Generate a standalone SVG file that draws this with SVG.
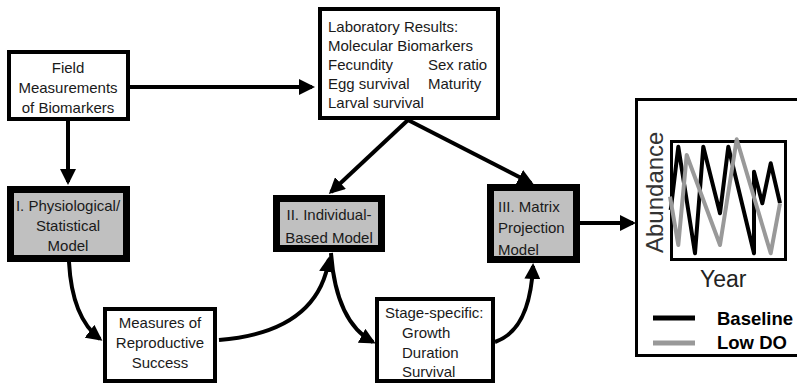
<svg xmlns="http://www.w3.org/2000/svg" width="797" height="389" viewBox="0 0 797 389">
<style>
text{font-family:"Liberation Sans",Arial,sans-serif;font-size:15px;fill:#1a1a1a}
.c{text-anchor:middle}
.wb{fill:#fff;stroke:#000;stroke-width:4}
.gb{fill:#c0c0c0;stroke:#000;stroke-width:7}
.con{fill:none;stroke:#000;stroke-width:4}
.leg{font-weight:bold;font-size:18.5px;fill:#000}
</style>
<defs>
<marker id="ah" markerUnits="userSpaceOnUse" markerWidth="16" markerHeight="16" refX="13" refY="8" orient="auto">
<path d="M0,0 L16,8 L0,16 z" fill="#000"/>
</marker>
</defs>
<rect width="797" height="389" fill="#fff"/>
<g id="connectors">
<path class="con" d="M130,87 L312,87" marker-end="url(#ah)"/>
<path class="con" d="M68,121 L68,182" marker-end="url(#ah)"/>
<path class="con" d="M408,120 L331,192" marker-end="url(#ah)"/>
<path class="con" d="M408,120 L531,183" marker-end="url(#ah)"/>
<path class="con" d="M580,223 L633,223" marker-end="url(#ah)"/>
<path class="con" d="M69,262 Q72,318 100,339" marker-end="url(#ah)"/>
<path class="con" d="M219,340 Q318,332 329,259" marker-end="url(#ah)"/>
<path class="con" d="M331,253 Q336,322 373,342" marker-end="url(#ah)"/>
<path class="con" d="M495,342 Q530,330 533,266" marker-end="url(#ah)"/>
</g>
<g id="field">
<rect class="wb" x="9" y="52" width="119" height="67"/>
<text class="c" x="68" y="73">Field</text>
<text class="c" x="68" y="93">Measurements</text>
<text class="c" x="68" y="113">of Biomarkers</text>
</g>
<g id="lab">
<rect class="wb" x="320" y="9" width="178" height="109"/>
<text x="328" y="32">Laboratory Results:</text>
<text x="328" y="51">Molecular Biomarkers</text>
<text x="328" y="70">Fecundity</text>
<text x="428" y="70">Sex ratio</text>
<text x="328" y="89">Egg survival</text>
<text x="428" y="89">Maturity</text>
<text x="328" y="108">Larval survival</text>
</g>
<g id="physio">
<rect class="gb" x="10.5" y="189.5" width="116" height="69"/>
<text class="c" x="68" y="211">I. Physiological/</text>
<text class="c" x="68" y="231">Statistical</text>
<text class="c" x="68" y="251">Model</text>
</g>
<g id="ibm">
<rect class="gb" x="276.5" y="198.5" width="105" height="50"/>
<text class="c" x="329" y="220">II. Individual-</text>
<text class="c" x="329" y="243">Based Model</text>
</g>
<g id="matrix">
<rect class="gb" x="490.5" y="187.5" width="86" height="72"/>
<text x="498" y="212">III. Matrix</text>
<text x="498" y="233">Projection</text>
<text x="498" y="255">Model</text>
</g>
<g id="measures">
<rect class="wb" x="105" y="309" width="110" height="72"/>
<text class="c" x="160" y="328">Measures of</text>
<text class="c" x="160" y="348">Reproductive</text>
<text class="c" x="160" y="368">Success</text>
</g>
<g id="stage">
<rect class="wb" x="377" y="299" width="116" height="82"/>
<text x="385" y="318">Stage-specific:</text>
<text x="402" y="338">Growth</text>
<text x="402" y="358">Duration</text>
<text x="402" y="377">Survival</text>
</g>
<g id="graph">
<rect x="636.5" y="99.5" width="200" height="256" fill="#fff" stroke="#000" stroke-width="3"/>
<rect x="671.5" y="141.5" width="114" height="118" fill="#fff" stroke="#000" stroke-width="3"/>
<polyline fill="none" stroke="#000" stroke-width="4" stroke-linejoin="round" points="670.7,210 678.3,146.7 695,253.3 703.3,146.7 720,213.3 728.3,146.7 754,253.3 754,171.7 762.3,203.3 770.7,163.3 780,203.3"/>
<polyline fill="none" stroke="#999" stroke-width="4" stroke-linejoin="round" points="670,196.7 678.3,245 686.7,155 720,245 736.7,139.3 770.7,253.3 780,203.3"/>
<text x="0" y="0" transform="translate(663,253) rotate(-90)" style="font-size:24px;fill:#333">Abundance</text>
<text x="700" y="287" style="font-size:23px;fill:#222">Year</text>
<line x1="653" y1="318" x2="695" y2="318" stroke="#000" stroke-width="5"/>
<line x1="653" y1="343" x2="695" y2="343" stroke="#999" stroke-width="5"/>
<text class="leg" x="717" y="325">Baseline</text>
<text class="leg" x="717" y="349">Low DO</text>
</g>
</svg>
